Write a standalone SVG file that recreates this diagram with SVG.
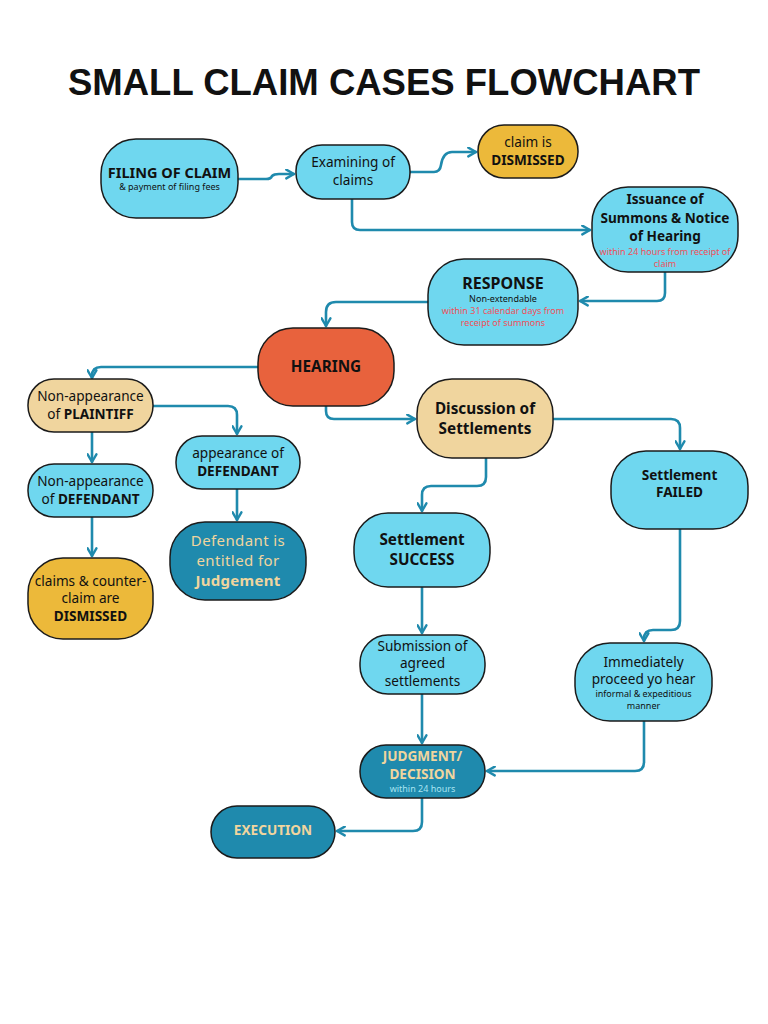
<svg xmlns="http://www.w3.org/2000/svg" width="768" height="1024" viewBox="0 0 768 1024">
<defs>
<style>
.n{stroke:#1b1b1b;stroke-width:1.5}
.c{fill:#6fd7ef}
.y{fill:#ecb93a}
.t{fill:#f0d59e}
.r{fill:#e8623d}
.d{fill:#1f8aad}
text{font-family:"Noto Sans","Open Sans",sans-serif;text-anchor:middle;fill:#111}
.b{font-weight:bold}
.s13{font-size:13.6px}
.s14{font-size:15.3px}
.s9{font-size:9px}
.s8{font-size:9px}
.red{fill:#f0505a}
.tan{fill:#f0d59e}
.lc{fill:#a8e4f2}
#conn path{fill:none;stroke:#1f8aad;stroke-width:2.6;stroke-linejoin:round;stroke-linecap:round}
</style>
<marker id="ar" viewBox="0 0 10 10" refX="8.5" refY="5" markerWidth="11" markerHeight="11" markerUnits="userSpaceOnUse" orient="auto">
<path d="M1.5,1 L8.5,5 L1.5,9" fill="none" stroke="#1f8aad" stroke-width="2.2" stroke-linecap="round" stroke-linejoin="round"/>
</marker>
</defs>
<rect width="768" height="1024" fill="#ffffff"/>
<text x="384" y="95" class="b" style="font-size:36px;font-family:'Liberation Sans',sans-serif" textLength="632" lengthAdjust="spacingAndGlyphs">SMALL CLAIM CASES FLOWCHART</text>

<g id="conn">
<path d="M238,179 H266 Q271,179 272,176 Q274,174 279,174 H294" marker-end="url(#ar)"/>
<path d="M410,172 H434 Q440,172 441,165 Q443,152 452,152 H476" marker-end="url(#ar)"/>
<path d="M352,199 V222 Q352,230 360,230 H590" marker-end="url(#ar)"/>
<path d="M665,272 V293 Q665,301 657,301 H580" marker-end="url(#ar)"/>
<path d="M428,302 H336 Q326,302 326,312 V326" marker-end="url(#ar)"/>
<path d="M258,367 H101 Q92,367 92,376 V378" marker-end="url(#ar)"/>
<path d="M326,406 V411 Q326,419 334,419 H415" marker-end="url(#ar)"/>
<path d="M153,406 H228 Q237,406 237,415 V434" marker-end="url(#ar)"/>
<path d="M92,432 V462" marker-end="url(#ar)"/>
<path d="M92,517 V556" marker-end="url(#ar)"/>
<path d="M237,489 V520" marker-end="url(#ar)"/>
<path d="M553,419 H671 Q680,419 680,428 V449" marker-end="url(#ar)"/>
<path d="M486,458 V477 Q486,486 477,486 H431 Q422,486 422,495 V511" marker-end="url(#ar)"/>
<path d="M422,587 V633" marker-end="url(#ar)"/>
<path d="M680,529 V621 Q680,630 671,630 H653 Q644,630 644,639 V641" marker-end="url(#ar)"/>
<path d="M422,694 V743" marker-end="url(#ar)"/>
<path d="M644,721 V762 Q644,771 635,771 H487" marker-end="url(#ar)"/>
<path d="M422,798 V822 Q422,831 413,831 H337" marker-end="url(#ar)"/>
</g>

<g id="filing">
<rect x="101" y="139" width="137" height="79" rx="35" class="n c"/>
<text x="169.5" y="178" class="b" style="font-size:14.5px">FILING OF CLAIM</text>
<text x="169.5" y="190" class="s8">&amp; payment of filing fees</text>
</g>
<g id="examining">
<rect x="296" y="145" width="114" height="54" rx="26" class="n c"/>
<text x="353" y="167" class="s13">Examining of</text>
<text x="353" y="185" class="s13">claims</text>
</g>
<g id="dismissed1">
<rect x="478" y="125" width="100" height="53" rx="26" class="n y"/>
<text x="528" y="147" class="s13">claim is</text>
<text x="528" y="165" class="b s13">DISMISSED</text>
</g>
<g id="issuance">
<rect x="592" y="187" width="146" height="85" rx="36" class="n c"/>
<text x="665" y="204" class="b s13">Issuance of</text>
<text x="665" y="223" class="b s13">Summons &amp; Notice</text>
<text x="665" y="241" class="b s13">of Hearing</text>
<text x="665" y="255" class="s9 red">within 24 hours from receipt of</text>
<text x="665" y="267" class="s9 red">claim</text>
</g>
<g id="response">
<rect x="428" y="259" width="150" height="86" rx="36" class="n c"/>
<text x="503" y="289" class="b" style="font-size:16px">RESPONSE</text>
<text x="503" y="302" class="s9">Non-extendable</text>
<text x="503" y="314" class="s9 red">within 31 calendar days from</text>
<text x="503" y="326" class="s9 red">receipt of summons</text>
</g>
<g id="hearing">
<rect x="258" y="328" width="136" height="78" rx="35" class="n r"/>
<text x="326" y="372" class="b s14">HEARING</text>
</g>
<g id="np-plaintiff">
<rect x="28" y="379" width="125" height="53" rx="26" class="n t"/>
<text x="90.5" y="401" class="s13">Non-appearance</text>
<text x="90.5" y="419" class="s13">of <tspan class="b">PLAINTIFF</tspan></text>
</g>
<g id="a-defendant">
<rect x="176" y="436" width="124" height="53" rx="26" class="n c"/>
<text x="238" y="458" class="s13">appearance of</text>
<text x="238" y="476" class="b s13">DEFENDANT</text>
</g>
<g id="np-defendant">
<rect x="28" y="464" width="125" height="53" rx="26" class="n c"/>
<text x="90.5" y="486" class="s13">Non-appearance</text>
<text x="90.5" y="504" class="s13">of <tspan class="b">DEFENDANT</tspan></text>
</g>
<g id="entitled">
<rect x="170" y="522" width="136" height="78" rx="35" class="n d"/>
<text x="238" y="546" class="tan" style="font-size:15px;letter-spacing:0.4px">Defendant is</text>
<text x="238" y="566" class="tan" style="font-size:15px;letter-spacing:0.4px">entitled for</text>
<text x="238" y="586" class="b tan" style="font-size:15px;letter-spacing:0.3px">Judgement</text>
</g>
<g id="dismissed2">
<rect x="28" y="558" width="125" height="81" rx="35" class="n y"/>
<text x="90.5" y="586" class="s13">claims &amp; counter-</text>
<text x="90.5" y="603" class="s13">claim are</text>
<text x="90.5" y="621" class="b s13">DISMISSED</text>
</g>
<g id="discussion">
<rect x="417" y="379" width="136" height="79" rx="35" class="n t"/>
<text x="485" y="414" class="b s14">Discussion of</text>
<text x="485" y="434" class="b s14">Settlements</text>
</g>
<g id="success">
<rect x="354" y="513" width="136" height="74" rx="34" class="n c"/>
<text x="422" y="545" class="b s14">Settlement</text>
<text x="422" y="565" class="b s14">SUCCESS</text>
</g>
<g id="failed">
<rect x="611" y="451" width="137" height="78" rx="35" class="n c"/>
<text x="679.5" y="480" class="b s13">Settlement</text>
<text x="679.5" y="497" class="b s13">FAILED</text>
</g>
<g id="submission">
<rect x="360" y="635" width="125" height="59" rx="28" class="n c"/>
<text x="422.5" y="651" class="s13">Submission of</text>
<text x="422.5" y="668" class="s13">agreed</text>
<text x="422.5" y="686" class="s13">settlements</text>
</g>
<g id="immediately">
<rect x="575" y="643" width="137" height="78" rx="35" class="n c"/>
<text x="643.5" y="667" class="s13">Immediately</text>
<text x="643.5" y="684" class="s13">proceed yo hear</text>
<text x="643.5" y="697" class="s8">informal &amp; expeditious</text>
<text x="643.5" y="709" class="s8">manner</text>
</g>
<g id="judgment">
<rect x="360" y="745" width="125" height="53" rx="26" class="n d"/>
<text x="422.5" y="761" class="b s13 tan">JUDGMENT/</text>
<text x="422.5" y="779" class="b s13 tan">DECISION</text>
<text x="422.5" y="792" class="s9 lc">within 24 hours</text>
</g>
<g id="execution">
<rect x="211" y="806" width="124" height="52" rx="26" class="n d"/>
<text x="273" y="835" class="b s13 tan">EXECUTION</text>
</g>
</svg>
